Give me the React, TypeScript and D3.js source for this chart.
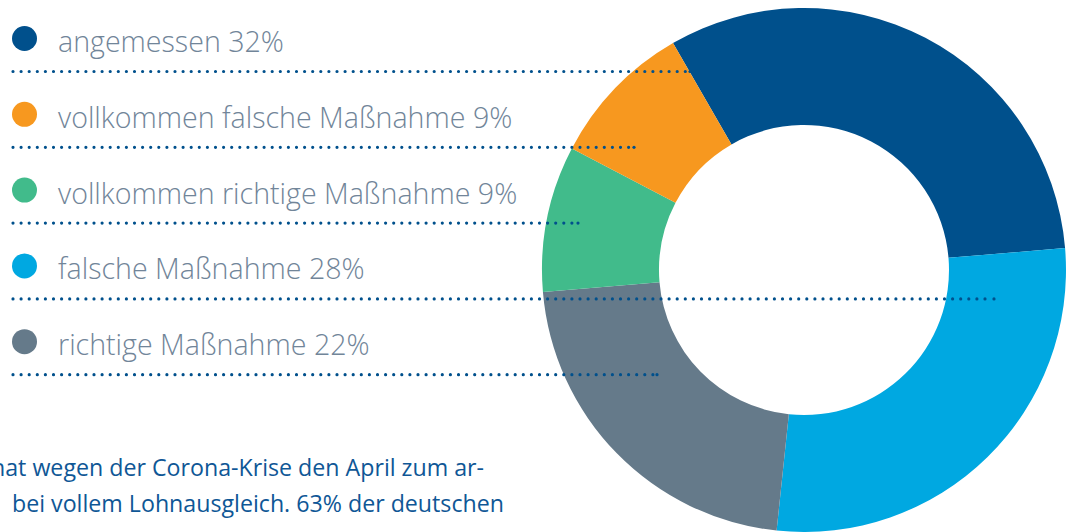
import React from 'react';
import * as d3 from 'd3';

const categories = [
  'angemessen',
  'vollkommen falsche Maßnahme',
  'vollkommen richtige Maßnahme',
  'falsche Maßnahme',
  'richtige Maßnahme',
];
const values = [32, 9, 9, 28, 22];
const colors = ['#00508C', '#F7981F', '#41BB8B', '#00A8E1', '#657A8A'];
// clockwise order of the slices in the ring, starting at the top-left
const ringOrder = [0, 3, 4, 2, 1];
const footLines = [
  'hat wegen der Corona-Krise den April zum ar-',
  'bei vollem Lohnausgleich. 63% der deutschen',
];

const W = 1072;
const H = 532;
const cx = 804;
const cy = 270;
const outerR = 262;
const innerR = 145;
const legendX = 58;
const legendY0 = 52;
const legendStep = 75.8;
const ruleEnds = [690, 634, 578, 994, 657];
const footX = [-9, 12];
const footY = [476, 512];

export default function App() {
  const pie = d3
    .pie<number>()
    .sort(null)
    .value((i) => values[i])
    .startAngle(-Math.PI / 6)
    .endAngle(2 * Math.PI - Math.PI / 6);
  const arcs = pie(ringOrder);
  const arc = d3.arc<d3.PieArcDatum<number>>().innerRadius(innerR).outerRadius(outerR);

  return (
    <svg
      width={W}
      height={H}
      style={{ position: 'absolute', left: 0, top: 0, display: 'block' }}
    >
      <rect width={W} height={H} fill="#fff" />
      <g transform={`translate(${cx},${cy})`}>
        {arcs.map((a) => (
          <path key={a.data} d={arc(a) || ''} fill={colors[a.data]} />
        ))}
      </g>
      {categories.map((c, i) => {
        const by = legendY0 + i * legendStep;
        const ly = by + 19.5;
        return (
          <g key={c}>
            <circle cx={24.5} cy={by - 13.5} r={12.5} fill={colors[i]} />
            <text
              x={legendX}
              y={by}
              fontFamily="'Open Sans', sans-serif"
              fontWeight={300}
              fontSize={28.6}
              fill="#718599"
            >
              {`${c} ${values[i]}%`}
            </text>
            <line
              x1={13}
              x2={ruleEnds[i] - 4}
              y1={ly}
              y2={ly}
              stroke="#00508C"
              strokeWidth={3.2}
              strokeLinecap="round"
              strokeDasharray="0 8.1"
            />
            <circle cx={ruleEnds[i]} cy={ly} r={1.6} fill="#00508C" />
          </g>
        );
      })}
      {footLines.map((t, i) => (
        <text
          key={i}
          x={footX[i]}
          y={footY[i]}
          fontFamily="'Open Sans', sans-serif"
          fontSize={23.2}
          fill="#0F5796"
        >
          {t}
        </text>
      ))}
    </svg>
  );
}
